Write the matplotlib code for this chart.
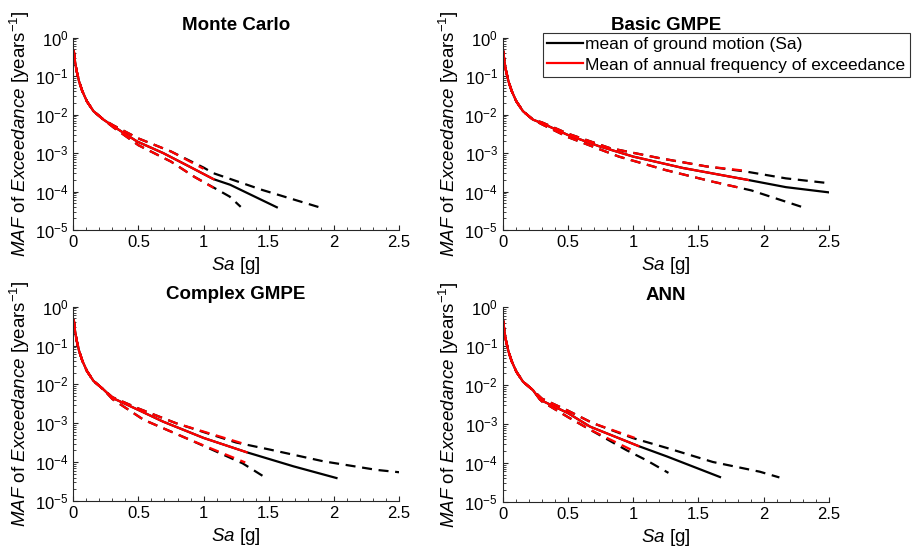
import numpy as np
import matplotlib.pyplot as plt
from matplotlib.ticker import MultipleLocator, LogLocator

plt.rcParams['font.family'] = ['Liberation Sans', 'DejaVu Sans']
plt.rcParams['mathtext.fontset'] = 'custom'
plt.rcParams['mathtext.rm'] = 'Liberation Sans'
plt.rcParams['mathtext.it'] = 'Liberation Sans:italic'
plt.rcParams['mathtext.bf'] = 'Liberation Sans:bold'

# shared low-Sa part of every hazard curve
low_sa = [0.004, 0.013, 0.026, 0.044, 0.069, 0.105, 0.155, 0.232]
low_maf = [4.5e-1, 2.45e-1, 1.35e-1, 7.4e-2, 4.1e-2, 2.2e-2, 1.23e-2, 7.4e-3]

# Monte Carlo
mc_sa_mean = [0.31, 0.49, 0.69, 0.9, 1.076, 1.204, 1.562]
mc_mean = [4.9e-3, 2.0e-3, 1.0e-3, 4.3e-4, 2.1e-4, 1.5e-4, 3.9e-5]
mc_sa_hi = [0.31, 0.5, 0.75, 1.0, 1.075, 1.45, 1.888]
mc_hi = [5.2e-3, 2.4e-3, 1.1e-3, 4.2e-4, 3.0e-4, 1.1e-4, 3.9e-5]
mc_sa_lo = [0.31, 0.5, 0.75, 0.93, 1.09, 1.20, 1.285]
mc_lo = [4.6e-3, 1.6e-3, 6.0e-4, 2.4e-4, 1.2e-4, 7.4e-5, 4.0e-5]
mc_sa_rmean = [0.31, 0.49, 0.69, 0.9, 1.076]
mc_rmean = [4.9e-3, 2.0e-3, 1.0e-3, 4.3e-4, 2.1e-4]
mc_sa_rhi = [0.31, 0.5, 0.75, 1.0]
mc_rhi = [5.2e-3, 2.4e-3, 1.1e-3, 3.9e-4]
mc_sa_rlo = [0.31, 0.5, 0.75, 0.93, 1.076]
mc_rlo = [4.6e-3, 1.6e-3, 6.0e-4, 2.4e-4, 1.25e-4]

# Basic GMPE
bg_sa_mean = [0.3, 0.5, 0.74, 1.0, 1.38, 1.88, 2.17, 2.5]
bg_mean = [6.0e-3, 2.95e-3, 1.5e-3, 8.1e-4, 4.1e-4, 2.0e-4, 1.3e-4, 9.5e-5]
bg_sa_hi = [0.3, 0.5, 0.82, 1.20, 1.56, 1.865, 2.17, 2.49]
bg_hi = [6.3e-3, 3.2e-3, 1.35e-3, 7.4e-4, 4.5e-4, 3.3e-4, 2.2e-4, 1.66e-4]
bg_sa_lo = [0.3, 0.5, 0.89, 1.25, 1.61, 1.905, 2.30]
bg_lo = [5.6e-3, 2.6e-3, 8.1e-4, 3.6e-4, 1.8e-4, 1.07e-4, 3.9e-5]
bg_sa_rmean = [0.3, 0.5, 0.74, 1.0, 1.38, 1.88]
bg_rmean = [6.0e-3, 2.95e-3, 1.5e-3, 8.1e-4, 4.1e-4, 2.0e-4]
bg_sa_rhi = [0.3, 0.5, 0.82, 1.20, 1.56, 1.88]
bg_rhi = [6.3e-3, 3.2e-3, 1.35e-3, 7.4e-4, 4.5e-4, 3.4e-4]
bg_sa_rlo = [0.3, 0.5, 0.89, 1.25, 1.61, 1.84]
bg_rlo = [5.6e-3, 2.6e-3, 8.1e-4, 3.6e-4, 1.8e-4, 1.2e-4]

# Complex GMPE
cg_sa_mean = [0.3, 0.5, 0.69, 1.0, 1.33, 1.69, 2.02]
cg_mean = [4.5e-3, 2.2e-3, 1.1e-3, 4.2e-4, 1.8e-4, 7.8e-5, 3.9e-5]
cg_sa_hi = [0.3, 0.5, 0.79, 1.25, 1.51, 1.92, 2.33, 2.5]
cg_hi = [4.7e-3, 2.4e-3, 1.0e-3, 3.2e-4, 2.1e-4, 1.05e-4, 6.3e-5, 5.5e-5]
cg_sa_lo = [0.3, 0.54, 0.90, 1.30, 1.48]
cg_lo = [4.2e-3, 1.23e-3, 3.7e-4, 9.3e-5, 3.9e-5]
cg_sa_rmean = [0.3, 0.5, 0.69, 1.0, 1.33]
cg_rmean = [4.5e-3, 2.2e-3, 1.1e-3, 4.2e-4, 1.8e-4]
cg_sa_rhi = [0.3, 0.5, 0.79, 1.29]
cg_rhi = [4.7e-3, 2.4e-3, 1.0e-3, 3.1e-4]
cg_sa_rlo = [0.3, 0.54, 0.90, 1.32]
cg_rlo = [4.2e-3, 1.23e-3, 3.7e-4, 9.8e-5]

# ANN
an_sa_mean = [0.286, 0.5, 0.67, 1.04, 1.26, 1.665]
an_mean = [4.2e-3, 1.9e-3, 8.5e-4, 2.7e-4, 1.45e-4, 4.3e-5]
an_sa_hi = [0.3, 0.5, 0.69, 1.0, 1.26, 1.61, 1.97, 2.12]
an_hi = [4.5e-3, 2.2e-3, 1.05e-3, 4.3e-4, 2.4e-4, 1.05e-4, 5.9e-5, 4.2e-5]
an_sa_lo = [0.3, 0.5, 0.67, 0.95, 1.10, 1.27]
an_lo = [3.8e-3, 1.5e-3, 7.1e-4, 2.1e-4, 1.17e-4, 5.5e-5]
an_sa_rmean = [0.286, 0.5, 0.67, 1.04]
an_rmean = [4.2e-3, 1.9e-3, 8.5e-4, 2.7e-4]
an_sa_rhi = [0.3, 0.5, 0.69, 1.01]
an_rhi = [4.5e-3, 2.2e-3, 1.05e-3, 4.4e-4]
an_sa_rlo = [0.3, 0.5, 0.67, 1.02]
an_rlo = [3.8e-3, 1.5e-3, 7.1e-4, 1.9e-4]

titles = ['Monte Carlo', 'Basic GMPE', 'Complex GMPE', 'ANN']
panels = [
    [(mc_sa_mean, mc_mean), (mc_sa_hi, mc_hi), (mc_sa_lo, mc_lo),
     (mc_sa_rmean, mc_rmean), (mc_sa_rhi, mc_rhi), (mc_sa_rlo, mc_rlo)],
    [(bg_sa_mean, bg_mean), (bg_sa_hi, bg_hi), (bg_sa_lo, bg_lo),
     (bg_sa_rmean, bg_rmean), (bg_sa_rhi, bg_rhi), (bg_sa_rlo, bg_rlo)],
    [(cg_sa_mean, cg_mean), (cg_sa_hi, cg_hi), (cg_sa_lo, cg_lo),
     (cg_sa_rmean, cg_rmean), (cg_sa_rhi, cg_rhi), (cg_sa_rlo, cg_rlo)],
    [(an_sa_mean, an_mean), (an_sa_hi, an_hi), (an_sa_lo, an_lo),
     (an_sa_rmean, an_rmean), (an_sa_rhi, an_rhi), (an_sa_rlo, an_rlo)],
]

# axes rectangles [left, bottom, width, height] in figure fraction
rects = [[0.080, 0.5856, 0.3556, 0.3465],
         [0.5488, 0.5856, 0.3562, 0.3465],
         [0.080, 0.0973, 0.3556, 0.3501],
         [0.5488, 0.0961, 0.3562, 0.3501]]

fig = plt.figure(figsize=(9.16, 5.55), dpi=100)
spine_col = '#262626'
dash = (4.5, 3.0)
styles = [('k', '-'), ('k', '--'), ('k', '--'), ('r', '-'), ('r', '--'), ('r', '--')]

for i in range(4):
    ax = fig.add_axes(rects[i])
    for j, (sa, maf) in enumerate(panels[i]):
        col, ls = styles[j]
        x = np.concatenate([low_sa, sa])
        y = np.concatenate([low_maf, maf])
        lab = None
        if j == 0:
            lab = 'mean of ground motion (Sa)'
        if j == 3:
            lab = 'Mean of annual frequency of exceedance'
        line, = ax.plot(x, y, color=col, lw=1.6, label=lab)
        if ls == '--':
            line.set_dashes(dash)
    ax.set_yscale('log')
    ax.set_xlim(0, 2.5)
    ax.set_ylim(1e-5, 1)
    ax.xaxis.set_minor_locator(MultipleLocator(0.1))
    ax.set_xticks([0, 0.5, 1, 1.5, 2, 2.5])
    ax.set_xticklabels(['0', '0.5', '1', '1.5', '2', '2.5'])
    ax.yaxis.set_major_locator(LogLocator(base=10, numticks=10))
    ax.yaxis.set_minor_locator(LogLocator(base=10, subs=np.arange(2, 10), numticks=10))
    ax.tick_params(which='both', direction='in', colors=spine_col, labelcolor='black',
                   labelsize=12, top=False, right=False)
    ax.tick_params(which='major', length=3.5, width=0.8)
    ax.tick_params(which='minor', length=2, width=0.6)
    ax.spines['top'].set_visible(False)
    ax.spines['right'].set_visible(False)
    for s in ['left', 'bottom']:
        ax.spines[s].set_color(spine_col)
        ax.spines[s].set_linewidth(0.8)
    ax.set_title(titles[i], fontsize=13.5, fontweight='bold', pad=5.5)
    ax.set_xlabel(r'$\it{Sa}$ [g]', fontsize=13.5, labelpad=4)
    ax.set_ylabel(r'$\it{MAF}$ of $\it{Exceedance}$ [years$^{-1}$]', fontsize=13.5, labelpad=2)
    if i == 1:
        leg = ax.legend(loc='upper left', bbox_to_anchor=(0.122, 1.026), fontsize=12.5,
                        frameon=True, fancybox=False, edgecolor='#333333', framealpha=1,
                        borderaxespad=0, borderpad=0.25, labelspacing=0.3,
                        handlelength=2.1, handletextpad=0.1)
        leg.get_frame().set_linewidth(0.8)

plt.savefig('out.png', dpi=100)
